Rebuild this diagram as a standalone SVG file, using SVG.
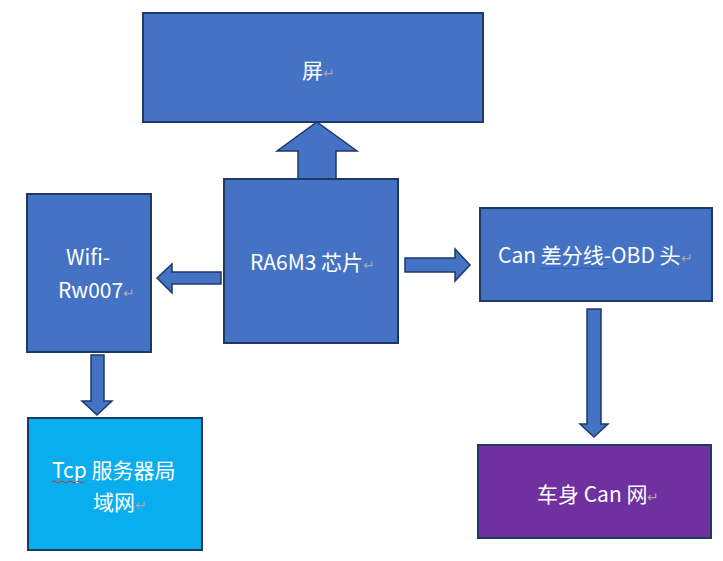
<svg xmlns="http://www.w3.org/2000/svg" width="723" height="561" viewBox="0 0 723 561">
<style>
.box{fill:#4472C4;stroke:#1F3864;stroke-width:2}
.tcp{fill:#0AAEEE;stroke:#1F3864;stroke-width:2}
.car{fill:#7030A0;stroke:#1F3864;stroke-width:2}
.arr{fill:#4472C4;stroke:#1F3864;stroke-width:1.5;stroke-linejoin:miter}
.t{fill:#FFFFFF;font-family:"Noto Sans CJK SC","Noto Sans",sans-serif;font-size:21px}
.pm{fill:#A6A6A6;font-size:14px}
</style>
<rect width="723" height="561" fill="#FFFFFF"/>
<g id="connectors">
<polygon class="arr" points="317,122 357,151 336,151 336,179 298,179 298,151 277,151"/>
<polygon class="arr" points="157,278 172,264 172,272 221,272 221,284 172,284 172,293"/>
<polygon class="arr" points="470,265 455,249 455,258 405,258 405,272 455,272 455,281"/>
<polygon class="arr" points="97,415 112,401 104,401 104,355 91,355 91,401 82,401"/>
<polygon class="arr" points="594,437 608,424 601,424 601,309 587,309 587,424 580,424"/>
</g>
<g id="screen">
<rect class="box" x="143" y="13" width="340" height="109"/>
<text class="t" x="302" y="78">屏<tspan class="pm">↵</tspan></text>
</g>
<g id="chip">
<rect class="box" x="224" y="179" width="174" height="164"/>
<text class="t" x="250" y="270">RA6M3 芯片<tspan class="pm">↵</tspan></text>
</g>
<g id="wifi">
<rect class="box" x="27" y="194" width="124" height="158"/>
<text class="t" x="66" y="265">Wifi-</text>
<text class="t" x="58" y="298">Rw007<tspan class="pm">↵</tspan></text>
</g>
<g id="can">
<rect class="box" x="480" y="208" width="232" height="93"/>
<text class="t" x="498" y="263">Can 差分线-OBD 头<tspan class="pm">↵</tspan></text>
<line x1="541" y1="268.5" x2="609" y2="268.5" stroke="#2E5FB8" stroke-width="1"/>
</g>
<g id="tcp">
<rect class="tcp" x="28" y="418" width="174" height="132"/>
<text class="t" x="52" y="478">Tcp 服务器局</text>
<text class="t" x="93" y="510">域网<tspan class="pm">↵</tspan></text>
<path d="M52,482 q2,-2 4,0 t4,0 t4,0 t4,0 t4,0 t4,0 t4,0 t4,0" fill="none" stroke="#C0392B" stroke-width="1"/>
</g>
<g id="carcan">
<rect class="car" x="478" y="445" width="233" height="93"/>
<text class="t" x="537" y="502">车身 Can 网<tspan class="pm">↵</tspan></text>
</g>
</svg>
